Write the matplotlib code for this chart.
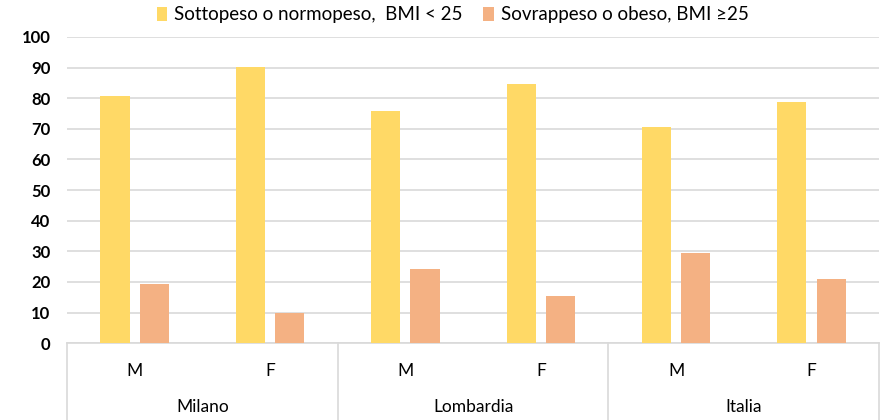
import matplotlib.pyplot as plt
import numpy as np

plt.rcParams['font.family'] = ['Lato', 'DejaVu Sans']

# dati
gruppi = ['Milano', 'Lombardia', 'Italia']
sesso = ['M', 'F', 'M', 'F', 'M', 'F']
normopeso = [80.8, 90.2, 75.9, 84.5, 70.7, 78.9]
sovrappeso = [19.2, 9.8, 24.1, 15.5, 29.3, 21.1]
serie = ['Sottopeso o normopeso,  BMI < 25', 'Sovrappeso o obeso, BMI \u226525']

col_giallo = '#FFD966'
col_arancio = '#F4B183'
col_griglia = '#D9D9D9'

fig = plt.figure(figsize=(8.81, 4.2), dpi=100)
ax = fig.add_axes([0.076, 0.183, 0.922, 0.729])

x = np.arange(len(sesso))
w = 0.215
ax.bar(x - 0.145, normopeso, w, color=col_giallo, label=serie[0], zorder=3)
ax.bar(x + 0.145, sovrappeso, w, color=col_arancio, label=serie[1], zorder=3)

ax.set_xlim(-0.5, len(sesso) - 0.5)
ax.set_ylim(0, 100)
ax.set_yticks(range(0, 101, 10))
ax.yaxis.grid(True, color=col_griglia, linewidth=1.2, zorder=0)
ax.tick_params(axis='y', length=0, labelsize=12, pad=12)
for t in ax.get_yticklabels():
    t.set_fontweight('bold')
for s in ['top', 'right', 'left']:
    ax.spines[s].set_visible(False)
ax.spines['bottom'].set_color(col_griglia)
ax.spines['bottom'].set_linewidth(1.2)

# etichette asse x su due livelli
ax.set_xticks(x)
ax.set_xticklabels(sesso, fontsize=12.5)
ax.tick_params(axis='x', length=0, pad=14)
for i, g in enumerate(gruppi):
    ax.text(2 * i + 0.5, -0.21, g, transform=ax.get_xaxis_transform(),
            ha='center', va='center', fontsize=12.5)
for k in range(len(gruppi) + 1):
    ax.plot([2 * k - 0.5, 2 * k - 0.5], [0, -0.26], transform=ax.get_xaxis_transform(),
            color=col_griglia, linewidth=1.2, clip_on=False)

fig.legend(loc='upper center', bbox_to_anchor=(0.514, 1.025), ncol=2, frameon=False,
           fontsize=13.5, handlelength=0.55, handleheight=0.75, handletextpad=0.4,
           columnspacing=1.1)

fig.savefig('out.png', dpi=100)
